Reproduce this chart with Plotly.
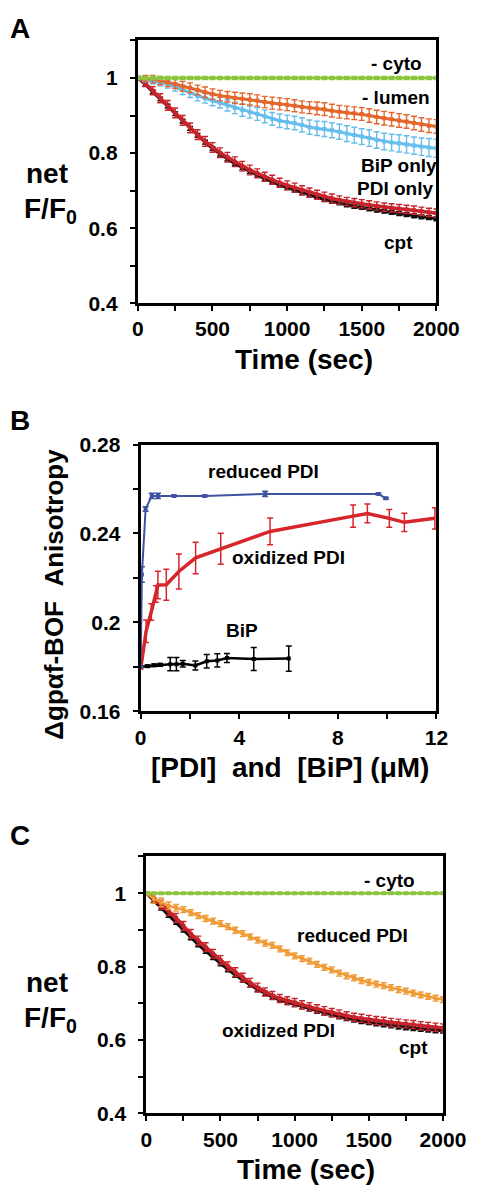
import plotly.graph_objects as go

W, H = 498, 1198

# ---------------- data ----------------
time_s = [0, 50, 100, 150, 200, 250, 300, 350, 400, 450, 500, 550, 600, 650, 700,
          750, 800, 850, 900, 950, 1000, 1050, 1100, 1150, 1200, 1250, 1300, 1350,
          1400, 1450, 1500, 1550, 1600, 1650, 1700, 1750, 1800, 1850, 1900, 1950, 2000]

# Panel A
a_cyto = [1.000, 1.000, 1.000, 1.000, 1.000, 1.000, 1.000, 1.000, 1.000, 1.000, 1.000,
          1.000, 1.000, 1.000, 1.000, 1.000, 1.000, 1.000, 1.000, 1.000, 1.000, 1.000,
          1.000, 1.000, 1.000, 1.000, 1.000, 1.000, 1.000, 1.000, 1.000, 1.000, 1.000,
          1.000, 1.000, 1.000, 1.000, 1.000, 1.000, 1.000, 1.000]
a_cyto_err = [0.004, 0.004, 0.005, 0.004, 0.004, 0.004, 0.004, 0.004, 0.004, 0.004, 0.004,
              0.004, 0.004, 0.004, 0.004, 0.004, 0.004, 0.004, 0.004, 0.004, 0.004, 0.004,
              0.004, 0.004, 0.004, 0.004, 0.004, 0.004, 0.004, 0.004, 0.004, 0.004, 0.004,
              0.004, 0.004, 0.004, 0.004, 0.004, 0.004, 0.004, 0.004]
a_lumen = [1.000, 0.999, 0.997, 0.993, 0.989, 0.984, 0.978, 0.974, 0.968, 0.962, 0.957,
           0.953, 0.950, 0.947, 0.945, 0.943, 0.940, 0.936, 0.933, 0.931, 0.929, 0.926,
           0.923, 0.921, 0.919, 0.917, 0.913, 0.910, 0.908, 0.906, 0.904, 0.900, 0.896,
           0.893, 0.890, 0.887, 0.884, 0.880, 0.876, 0.873, 0.871]
a_lumen_err = [0.004, 0.008, 0.010, 0.011, 0.012, 0.012, 0.013, 0.013, 0.013, 0.014, 0.014,
               0.014, 0.014, 0.015, 0.015, 0.015, 0.015, 0.015, 0.016, 0.016, 0.016, 0.016,
               0.016, 0.016, 0.017, 0.017, 0.017, 0.017, 0.017, 0.017, 0.017, 0.018, 0.018,
               0.018, 0.018, 0.018, 0.018, 0.018, 0.018, 0.018, 0.018]
a_bip_only = [1.000, 0.996, 0.992, 0.988, 0.983, 0.976, 0.968, 0.960, 0.952, 0.946, 0.940,
              0.934, 0.927, 0.920, 0.914, 0.909, 0.904, 0.898, 0.891, 0.886, 0.883, 0.880,
              0.875, 0.869, 0.866, 0.864, 0.861, 0.857, 0.852, 0.848, 0.844, 0.840, 0.835,
              0.831, 0.828, 0.826, 0.823, 0.820, 0.817, 0.815, 0.813]
a_bip_only_err = [0.004, 0.006, 0.008, 0.009, 0.010, 0.011, 0.012, 0.012, 0.013, 0.013, 0.014,
                  0.014, 0.015, 0.015, 0.016, 0.016, 0.017, 0.017, 0.017, 0.018, 0.018, 0.018,
                  0.019, 0.019, 0.019, 0.020, 0.020, 0.020, 0.021, 0.021, 0.021, 0.022, 0.022,
                  0.022, 0.022, 0.023, 0.023, 0.023, 0.023, 0.024, 0.024]
a_pdi_only = [1.000, 0.985, 0.966, 0.946, 0.927, 0.907, 0.887, 0.867, 0.849, 0.831, 0.815,
              0.801, 0.789, 0.777, 0.765, 0.755, 0.746, 0.737, 0.729, 0.721, 0.714, 0.708,
              0.701, 0.695, 0.689, 0.684, 0.679, 0.675, 0.671, 0.668, 0.665, 0.662, 0.659,
              0.656, 0.654, 0.652, 0.650, 0.648, 0.645, 0.642, 0.640]
a_pdi_only_err = [0.004, 0.008, 0.011, 0.012, 0.013, 0.013, 0.013, 0.013, 0.013, 0.013, 0.013,
                  0.013, 0.013, 0.013, 0.013, 0.013, 0.012, 0.012, 0.012, 0.012, 0.012, 0.012,
                  0.012, 0.012, 0.012, 0.012, 0.012, 0.011, 0.011, 0.011, 0.011, 0.011, 0.011,
                  0.011, 0.011, 0.011, 0.011, 0.011, 0.011, 0.011, 0.011]
a_cpt = [1.000, 0.983, 0.963, 0.944, 0.925, 0.905, 0.885, 0.866, 0.847, 0.829, 0.812,
         0.797, 0.784, 0.772, 0.761, 0.751, 0.741, 0.732, 0.723, 0.715, 0.708, 0.701,
         0.694, 0.688, 0.682, 0.676, 0.671, 0.667, 0.662, 0.658, 0.655, 0.651, 0.648,
         0.645, 0.642, 0.639, 0.636, 0.633, 0.630, 0.628, 0.625]
a_cpt_err = [0.003, 0.005, 0.005, 0.005, 0.005, 0.005, 0.005, 0.005, 0.005, 0.005, 0.005,
             0.005, 0.005, 0.005, 0.005, 0.005, 0.005, 0.005, 0.005, 0.005, 0.005, 0.005,
             0.005, 0.005, 0.005, 0.005, 0.005, 0.005, 0.005, 0.005, 0.005, 0.005, 0.005,
             0.005, 0.005, 0.005, 0.005, 0.005, 0.005, 0.005, 0.005]

# Panel B
b_reduced_x = [0.0, 0.05, 0.2, 0.45, 0.7, 1.35, 2.6, 5.05, 9.65, 9.95]
b_reduced_y = [0.180, 0.2215, 0.251, 0.2569, 0.2569, 0.2569, 0.2569, 0.2578, 0.2578, 0.2558]
b_reduced_err = [0.0, 0.0035, 0.001, 0.0012, 0.0012, 0.0004, 0.0004, 0.0012, 0.0004, 0.0004]
b_oxidized_x = [0.0, 0.22, 0.43, 0.62, 0.70, 1.04, 1.55, 2.23, 3.25, 5.25, 8.62, 9.2, 10.09, 10.7, 11.94]
b_oxidized_y = [0.179, 0.196, 0.2047, 0.2128, 0.2168, 0.2169, 0.2229, 0.2290, 0.2331, 0.2409,
                0.2478, 0.2490, 0.2468, 0.2450, 0.2468]
b_oxidized_err = [0.0, 0.0051, 0.0037, 0.0037, 0.0062, 0.007, 0.0079, 0.0071, 0.007, 0.006,
                  0.005, 0.0042, 0.004, 0.0041, 0.0048]
b_bip_x = [0.0, 0.28, 0.54, 0.79, 1.2, 1.45, 1.71, 2.22, 2.68, 3.11, 3.5, 4.59, 6.01]
b_bip_y = [0.1800, 0.1803, 0.1807, 0.1809, 0.1812, 0.1812, 0.1814, 0.1806, 0.1825, 0.1829,
           0.1840, 0.1835, 0.1837]
b_bip_err = [0.0, 0.0005, 0.0006, 0.0006, 0.003, 0.003, 0.0015, 0.002, 0.003, 0.003, 0.002,
             0.0052, 0.0057]

# Panel C
c_cyto = [1.000, 1.000, 1.000, 1.000, 1.000, 1.000, 1.000, 1.000, 1.000, 1.000, 1.000,
          1.000, 1.000, 1.000, 1.000, 1.000, 1.000, 1.000, 1.000, 1.000, 1.000, 1.000,
          1.000, 1.000, 1.000, 1.000, 1.000, 1.000, 1.000, 1.000, 1.000, 1.000, 1.000,
          1.000, 1.000, 1.000, 1.000, 1.000, 1.000, 1.000, 1.000]
c_cyto_err = [0.003, 0.003, 0.003, 0.003, 0.003, 0.003, 0.003, 0.003, 0.003, 0.003, 0.003,
              0.003, 0.003, 0.003, 0.003, 0.003, 0.003, 0.003, 0.003, 0.003, 0.003, 0.003,
              0.003, 0.003, 0.003, 0.003, 0.003, 0.003, 0.003, 0.003, 0.003, 0.003, 0.003,
              0.003, 0.003, 0.003, 0.003, 0.003, 0.003, 0.003, 0.003]
c_reduced = [1.000, 0.985, 0.975, 0.966, 0.960, 0.955, 0.947, 0.939, 0.931, 0.924, 0.917,
             0.909, 0.899, 0.890, 0.881, 0.872, 0.864, 0.858, 0.848, 0.838, 0.829, 0.822,
             0.815, 0.806, 0.798, 0.791, 0.782, 0.775, 0.769, 0.762, 0.757, 0.752, 0.748,
             0.743, 0.737, 0.733, 0.728, 0.723, 0.719, 0.714, 0.710]
c_reduced_err = [0.004, 0.012, 0.012, 0.010, 0.009, 0.008, 0.008, 0.008, 0.008, 0.008, 0.008,
                 0.008, 0.008, 0.008, 0.008, 0.008, 0.008, 0.008, 0.008, 0.008, 0.008, 0.008,
                 0.008, 0.008, 0.008, 0.008, 0.008, 0.008, 0.008, 0.008, 0.008, 0.008, 0.008,
                 0.008, 0.008, 0.008, 0.008, 0.008, 0.008, 0.008, 0.008]
c_oxidized = [1.000, 0.986, 0.969, 0.952, 0.933, 0.911, 0.889, 0.871, 0.853, 0.835, 0.818,
              0.801, 0.785, 0.770, 0.756, 0.743, 0.731, 0.721, 0.713, 0.707, 0.702, 0.696,
              0.691, 0.685, 0.680, 0.675, 0.671, 0.666, 0.662, 0.659, 0.656, 0.653, 0.651,
              0.648, 0.646, 0.644, 0.642, 0.639, 0.637, 0.635, 0.633]
c_oxidized_err = [0.004, 0.010, 0.012, 0.012, 0.012, 0.012, 0.012, 0.012, 0.012, 0.012, 0.012,
                  0.012, 0.012, 0.012, 0.012, 0.012, 0.011, 0.011, 0.011, 0.011, 0.011, 0.011,
                  0.011, 0.011, 0.011, 0.011, 0.011, 0.011, 0.011, 0.011, 0.011, 0.011, 0.011,
                  0.011, 0.011, 0.011, 0.011, 0.011, 0.011, 0.011, 0.011]
c_cpt = [1.000, 0.980, 0.960, 0.940, 0.921, 0.900, 0.879, 0.860, 0.842, 0.825, 0.808,
         0.792, 0.777, 0.763, 0.750, 0.738, 0.727, 0.717, 0.709, 0.703, 0.697, 0.691,
         0.685, 0.679, 0.674, 0.669, 0.664, 0.659, 0.655, 0.651, 0.648, 0.645, 0.642,
         0.639, 0.636, 0.634, 0.632, 0.630, 0.628, 0.626, 0.625]
c_cpt_err = [0.003, 0.006, 0.006, 0.006, 0.006, 0.006, 0.006, 0.006, 0.006, 0.006, 0.006,
             0.006, 0.006, 0.006, 0.006, 0.006, 0.006, 0.006, 0.006, 0.006, 0.006, 0.006,
             0.006, 0.006, 0.006, 0.006, 0.006, 0.006, 0.006, 0.006, 0.006, 0.006, 0.006,
             0.006, 0.006, 0.006, 0.006, 0.006, 0.006, 0.006, 0.006]

# tick labels
ff_yticks = [0.4, 0.5, 0.6, 0.7, 0.8, 0.9, 1.0, 1.1]
ff_ytext = ["0.4", "", "0.6", "", "0.8", "", "1", ""]
time_ticks = [0, 250, 500, 750, 1000, 1250, 1500, 1750, 2000]
time_text = ["0", "", "500", "", "1000", "", "1500", "", "2000"]
b_yticks = [0.16, 0.18, 0.20, 0.22, 0.24, 0.26, 0.28]
b_ytext = ["0.16", "", "0.2", "", "0.24", "", "0.28"]
b_xticks = [0, 2, 4, 6, 8, 10, 12]
b_xtext = ["0", "", "4", "", "8", "", "12"]

# ---------------- figure ----------------
FONT = "Liberation Sans, Arial, Helvetica, sans-serif"

GREEN = "#8cc63e"
ORANGE_A = "#e3672c"
LBLUE = "#67bdec"
RED = "#c8232b"
BLACK = "#111111"
ORANGE_C = "#ef9a34"
BLUE_B = "#3e51a3"
RED_B = "#d7262b"

fig = go.Figure()


def ts(x, y, err, color, xa, ya, width=3, msize=4, ethick=1.4, ewidth=3):
    fig.add_trace(go.Scatter(
        x=x, y=y, mode="lines+markers", xaxis=xa, yaxis=ya,
        line=dict(color=color, width=width),
        marker=dict(symbol="square", size=msize, color=color),
        error_y=dict(type="data", array=err, color=color, thickness=ethick, width=ewidth),
        showlegend=False, hoverinfo="skip"))


# Panel A
ts(time_s, a_cpt, a_cpt_err, BLACK, "x", "y")
ts(time_s, a_pdi_only, a_pdi_only_err, RED, "x", "y", width=3.5)
ts(time_s, a_bip_only, a_bip_only_err, LBLUE, "x", "y")
ts(time_s, a_lumen, a_lumen_err, ORANGE_A, "x", "y")
ts(time_s, a_cyto, a_cyto_err, GREEN, "x", "y", width=2.5)

# Panel B
fig.add_trace(go.Scatter(x=b_bip_x, y=b_bip_y, mode="lines+markers", xaxis="x2", yaxis="y2",
                         line=dict(color="#000000", width=2.5),
                         marker=dict(symbol="square", size=4, color="#000000"),
                         error_y=dict(type="data", array=b_bip_err, color="#000000", thickness=1.5, width=3),
                         showlegend=False, hoverinfo="skip"))
fig.add_trace(go.Scatter(x=b_oxidized_x, y=b_oxidized_y, mode="lines", xaxis="x2", yaxis="y2",
                         line=dict(color=RED_B, width=3.5),
                         error_y=dict(type="data", array=b_oxidized_err, color=RED_B, thickness=1.5, width=3),
                         showlegend=False, hoverinfo="skip"))
fig.add_trace(go.Scatter(x=b_reduced_x, y=b_reduced_y, mode="lines+markers", xaxis="x2", yaxis="y2",
                         line=dict(color=BLUE_B, width=2),
                         marker=dict(symbol="square", size=4, color=BLUE_B),
                         error_y=dict(type="data", array=b_reduced_err, color=BLUE_B, thickness=1.5, width=3),
                         showlegend=False, hoverinfo="skip"))

# Panel C
ts(time_s, c_cpt, c_cpt_err, BLACK, "x3", "y3")
ts(time_s, c_oxidized, c_oxidized_err, RED, "x3", "y3", width=3.5)
ts(time_s, c_reduced, c_reduced_err, ORANGE_C, "x3", "y3", width=2.5)
ts(time_s, c_cyto, c_cyto_err, GREEN, "x3", "y3", width=2.5)


def px_x(p):
    return p / W


def px_y(p):
    return 1 - p / H


tickfont = dict(family=FONT, size=21, color="black", weight="bold")
axis_common = dict(showline=True, linewidth=3, linecolor="black", mirror=True,
                   ticks="outside", ticklen=5, tickwidth=1.5, tickcolor="black",
                   showgrid=False, zeroline=False, tickfont=tickfont, fixedrange=True)

fig.update_layout(
    width=W, height=H, margin=dict(l=0, r=0, t=0, b=0), autosize=False,
    paper_bgcolor="white", plot_bgcolor="white", showlegend=False,
    xaxis=dict(domain=[px_x(140), px_x(457)], range=[0, 2000], anchor="y",
               tickvals=time_ticks, ticktext=time_text, ticklabelstandoff=0, **axis_common),
    yaxis=dict(domain=[px_y(297), px_y(29)], range=[0.4, 1.1], anchor="x",
               tickvals=ff_yticks, ticktext=ff_ytext, ticklabelstandoff=8, **axis_common),
    xaxis2=dict(domain=[px_x(143), px_x(457)], range=[0, 12], anchor="y2",
                tickvals=b_xticks, ticktext=b_xtext, ticklabelstandoff=0, **axis_common),
    yaxis2=dict(domain=[px_y(713), px_y(441)], range=[0.16, 0.28], anchor="x2",
                tickvals=b_yticks, ticktext=b_ytext, ticklabelstandoff=8, **axis_common),
    xaxis3=dict(domain=[px_x(149), px_x(464)], range=[0, 2000], anchor="y3",
                tickvals=time_ticks, ticktext=time_text, ticklabelstandoff=0, **axis_common),
    yaxis3=dict(domain=[px_y(1123), px_y(861)], range=[0.4, 1.1], anchor="x3",
                tickvals=ff_yticks, ticktext=ff_ytext, ticklabelstandoff=8, **axis_common),
)


def ann(text, x, y, size=19, angle=0):
    fig.add_annotation(text=text, x=px_x(x), y=px_y(y), xref="paper", yref="paper",
                       xanchor="center", yanchor="middle", showarrow=False, textangle=angle,
                       font=dict(family=FONT, size=size, color="black", weight="bold"))


# panel letters
ann("A", 15, 17, size=28)
ann("B", 15, 417, size=28)
ann("C", 15, 840, size=28)

# axis titles
ann("net", 44, 165, size=28)
ann("F/F<sub>0</sub>", 47, 202, size=28)
ann("Time (sec)", 316, 354, size=28)
ann("\u0394gp\u03b1f-BOF\u00a0\u00a0Anisotropy", 51, 594, size=26, angle=-90)
ann("[PDI]\u00a0\u00a0and\u00a0\u00a0[BiP]\u00a0(\u03bcM)", 302, 770, size=28)
ann("net", 44, 990, size=28)
ann("F/F<sub>0</sub>", 47, 1027, size=28)
ann("Time (sec)", 319, 1180, size=28)

# curve labels A
ann("- cyto", 415, 52)
ann("- lumen", 414, 87)
ann("BiP only", 417, 157)
ann("PDI only", 413, 180)
ann("cpt", 417, 235)
# curve labels B
ann("reduced PDI", 273, 468)
ann("oxidized PDI", 300, 556)
ann("BiP", 251, 631)
# curve labels C
ann("- cyto", 407, 886)
ann("reduced PDI", 368, 942)
ann("oxidized PDI", 289, 1038)
ann("cpt", 433, 1056)

fig.write_html("out.html", config={"responsive": False, "displayModeBar": False},
               post_script="document.body.style.margin='0';document.body.style.overflow='hidden';")
